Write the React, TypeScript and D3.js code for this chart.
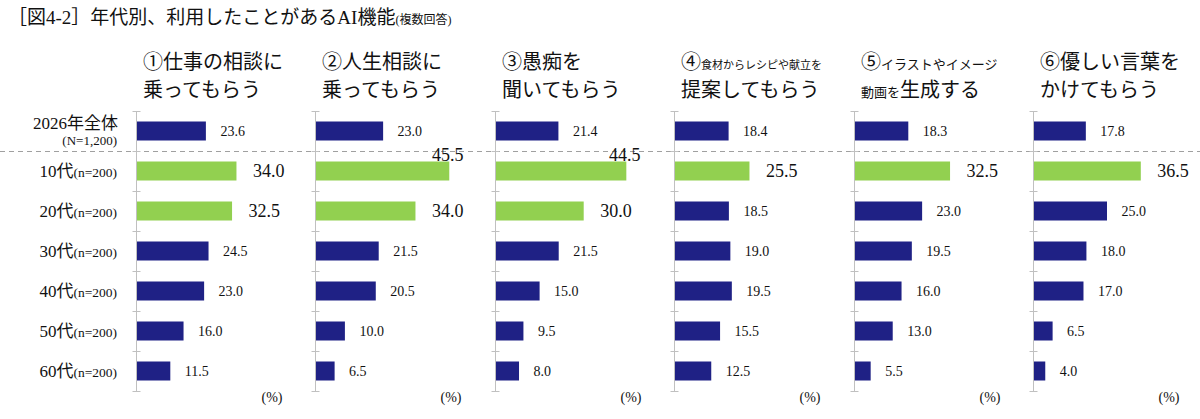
import React, { useEffect, useRef } from 'react'
import * as d3 from 'd3'

// row categories (top row is the overall total)
const categories = ['2026年全体', '10代', '20代', '30代', '40代', '50代', '60代']
const sampleSizes = ['(N=1,200)', '(n=200)', '(n=200)', '(n=200)', '(n=200)', '(n=200)', '(n=200)']

// one series per panel, same order as categories
const workAdvice = [23.6, 34.0, 32.5, 24.5, 23.0, 16.0, 11.5]
const lifeAdvice = [23.0, 45.5, 34.0, 21.5, 20.5, 10.0, 6.5]
const listenVent = [21.4, 44.5, 30.0, 21.5, 15.0, 9.5, 8.0]
const recipeIdeas = [18.4, 25.5, 18.5, 19.0, 19.5, 15.5, 12.5]
const imageVideo = [18.3, 32.5, 23.0, 19.5, 16.0, 13.0, 5.5]
const kindWords = [17.8, 36.5, 25.0, 18.0, 17.0, 6.5, 4.0]

// highlighted (green) rows per panel
const highlightRows = [[1, 2], [1, 2], [1, 2], [1], [1], [1]]

// header lines: [text, size] pieces
const panelHeaders = [
    [[['①仕事の相談に', 'big']], [['乗ってもらう', 'big']]],
    [[['②人生相談に', 'big']], [['乗ってもらう', 'big']]],
    [[['③愚痴を', 'big']], [['聞いてもらう', 'big']]],
    [[['④', 'big'], ['食材からレシピや献立を', 'tiny']], [['提案してもらう', 'big']]],
    [[['⑤', 'big'], ['イラストやイメージ', 'small']], [['動画を', 'small'], ['生成する', 'big']]],
    [[['⑥優しい言葉を', 'big']], [['かけてもらう', 'big']]],
]

const panelSeries = [workAdvice, lifeAdvice, listenVent, recipeIdeas, imageVideo, kindWords]

const NAVY = '#1f2185'
const GREEN = '#92d050'
const SERIF = '"Liberation Serif", "Noto Sans CJK JP", serif'
const JP = '"Noto Sans CJK JP", sans-serif'

const App = () => {
    const ref = useRef<SVGSVGElement>(null)

    useEffect(() => {
        const svg = d3.select(ref.current)
        svg.selectAll('*').remove()

        const width = 1200
        const height = 419
        const axisX0 = 136
        const panelStep = 179.4
        const top = 111
        const rowStep = 40
        const barH = 19

        svg.attr('width', width).attr('height', height)
        svg.append('rect').attr('width', width).attr('height', height).attr('fill', '#fff')

        const yScale = d3.scaleBand()
            .domain(categories.map((d, i) => String(i)))
            .range([top, top + rowStep * categories.length])
            .paddingInner(0)

        const xScale = d3.scaleLinear().domain([0, 50]).range([0, 147])

        // title
        const title = svg.append('text')
            .attr('x', 8).attr('y', 24)
            .attr('font-family', SERIF)
            .attr('fill', '#111')
        title.append('tspan').attr('font-size', 19).text('［図4-2］年代別、利用したことがあるAI機能')
        title.append('tspan').attr('font-size', 12).text('(複数回答)')

        // row labels
        categories.forEach((c, i) => {
            const cy = yScale(String(i))! + rowStep / 2
            if (i === 0) {
                svg.append('text')
                    .attr('x', 118).attr('y', cy - 2)
                    .attr('text-anchor', 'end')
                    .attr('font-family', SERIF).attr('font-size', 17).attr('fill', '#111')
                    .text(c)
                svg.append('text')
                    .attr('x', 117).attr('y', cy + 14)
                    .attr('text-anchor', 'end')
                    .attr('font-family', SERIF).attr('font-size', 13).attr('fill', '#111')
                    .text(sampleSizes[i])
            } else {
                const t = svg.append('text')
                    .attr('x', 117).attr('y', cy + 6)
                    .attr('text-anchor', 'end')
                    .attr('font-family', SERIF).attr('fill', '#111')
                t.append('tspan').attr('font-size', 17).text(c)
                t.append('tspan').attr('font-size', 13.5).text(sampleSizes[i])
            }
        })

        // dashed separator under total row
        svg.append('line')
            .attr('x1', 0).attr('x2', width)
            .attr('y1', top + rowStep + 0.5).attr('y2', top + rowStep + 0.5)
            .attr('stroke', '#a0a0a0').attr('stroke-width', 1)
            .attr('stroke-dasharray', '5,4')

        const sizes: Record<string, number> = { big: 20, small: 13, tiny: 11 }

        panelSeries.forEach((series, p) => {
            const ax = Math.round(axisX0 + p * panelStep)
            const g = svg.append('g').attr('transform', `translate(${ax},0)`)

            // header
            panelHeaders[p].forEach((line, li) => {
                const t = g.append('text')
                    .attr('x', 7).attr('y', 69 + li * 28)
                    .attr('font-family', JP).attr('fill', '#111')
                line.forEach(([txt, sz]) => {
                    t.append('tspan').attr('font-size', sizes[sz]).text(txt)
                })
            })

            // bars
            g.selectAll('rect.bar')
                .data(series)
                .join('rect')
                .attr('class', 'bar')
                .attr('x', 0.5)
                .attr('y', (d, i) => yScale(String(i))! + (rowStep - barH) / 2)
                .attr('width', d => xScale(d))
                .attr('height', barH)
                .attr('fill', (d, i) => highlightRows[p].includes(i) ? GREEN : NAVY)

            // axis line and ticks
            g.append('line')
                .attr('x1', 0.5).attr('x2', 0.5)
                .attr('y1', top).attr('y2', top + rowStep * categories.length)
                .attr('stroke', '#c0c0c0')
            d3.range(categories.length + 1).forEach(k => {
                const ty = top + k * rowStep + 0.5
                g.append('line')
                    .attr('x1', -3.5).attr('x2', 4.5)
                    .attr('y1', ty).attr('y2', ty)
                    .attr('stroke', '#c0c0c0')
            })

            // value labels
            series.forEach((v, i) => {
                const hi = highlightRows[p].includes(i)
                const by = yScale(String(i))! + (rowStep - barH) / 2
                const end = xScale(v)
                const label = g.append('text')
                    .attr('font-family', SERIF).attr('fill', '#111')
                    .attr('font-size', hi ? 18 : 14)
                    .text(v.toFixed(1))
                if (v > 40) {
                    label.attr('x', end - 1).attr('y', by - 1).attr('text-anchor', 'middle')
                } else {
                    label.attr('x', end + (hi ? 17 : 15)).attr('y', by + barH / 2 + (hi ? 6 : 5))
                }
            })

            // unit
            g.append('text')
                .attr('x', 136).attr('y', 402)
                .attr('text-anchor', 'middle')
                .attr('font-family', SERIF).attr('font-size', 14).attr('fill', '#111')
                .text('(%)')
        })
    }, [])

    return (
        <div style={{ position: 'absolute', left: 0, top: 0 }}>
            <svg ref={ref} style={{ display: 'block' }} />
        </div>
    )
}

export default App
